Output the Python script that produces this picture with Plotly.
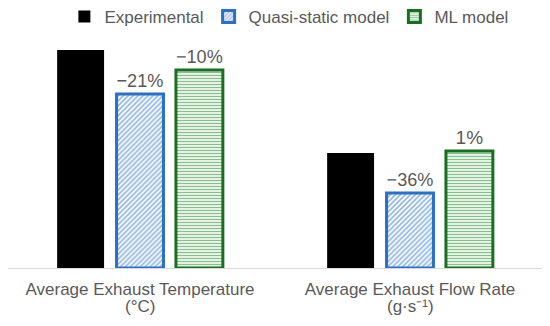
import plotly.graph_objects as go

categories = ["Average Exhaust Temperature", "Average Exhaust Flow Rate"]
units = ["(°C)", "(g·s⁻¹)"]
series_names = ["Experimental", "Quasi-static model", "ML model"]
experimental = [100.0, 52.8]
quasi_static = [79.8, 34.4]
ml_model = [90.8, 53.7]
quasi_labels = ["−21%", "−36%"]
ml_labels = ["−10%", "1%"]

TXT = "#595959"
FONT = "Liberation Sans, Arial, sans-serif"

fig = go.Figure()
fig.add_trace(go.Bar(
    x=categories, y=experimental, name=series_names[0],
    marker=dict(color="#000000", line=dict(width=0)),
))
fig.add_trace(go.Bar(
    x=categories, y=quasi_static, name=series_names[1],
    text=quasi_labels, textposition="outside",
    marker=dict(color="#ffffff", line=dict(color="#2a6fc9", width=3),
                pattern=dict(shape="/", fgcolor="#2a6fc9", bgcolor="#ffffff",
                             size=3.5, solidity=0.5)),
))
fig.add_trace(go.Bar(
    x=categories, y=ml_model, name=series_names[2],
    text=ml_labels, textposition="outside",
    marker=dict(color="#ffffff", line=dict(color="#17701f", width=3),
                pattern=dict(shape="-", fgcolor="#2e8b3a", bgcolor="#e3f2e3",
                             size=3, solidity=0.35)),
))

for i, u in enumerate(units):
    fig.add_annotation(x=i, xref="x", y=0, yref="paper", yshift=-38, yanchor="middle",
                       text=u, showarrow=False, font=dict(size=17, color=TXT, family=FONT))

fig.update_traces(textfont=dict(size=19, color=TXT, family=FONT), cliponaxis=False,
                  textangle=0)
fig.update_layout(
    width=542, height=318,
    margin=dict(l=0, r=5, t=0, b=58, autoexpand=False),
    paper_bgcolor="white", plot_bgcolor="white",
    barmode="group", bargap=0.34, bargroupgap=0.21,
    font=dict(family=FONT, size=17, color=TXT),
    showlegend=True,
    legend=dict(orientation="h", x=0.105, xanchor="left", y=1.035, yanchor="top",
                font=dict(size=17, color=TXT), traceorder="normal",
                itemwidth=30, borderwidth=0, bgcolor="rgba(0,0,0,0)"),
    xaxis=dict(showline=True, linecolor="#d9d9d9", linewidth=1, ticks="",
               tickfont=dict(size=17, color=TXT), showgrid=False,
               range=[-0.4889, 1.5], ticklabelstandoff=6, automargin=False),
    yaxis=dict(visible=False, range=[0, 119.27]),
)
fig.write_html("out.html")
